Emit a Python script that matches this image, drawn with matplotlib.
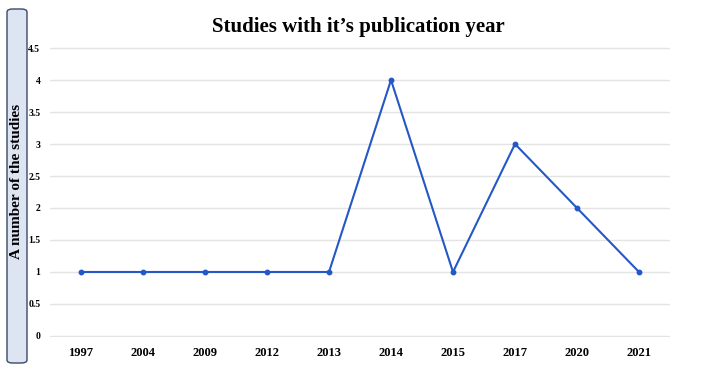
import matplotlib.pyplot as plt
from matplotlib.patches import FancyBboxPatch

years = ["1997", "2004", "2009", "2012", "2013", "2014", "2015", "2017", "2020", "2021"]
studies = [1, 1, 1, 1, 1, 4, 1, 3, 2, 1]
y_ticks = [0, 0.5, 1, 1.5, 2, 2.5, 3, 3.5, 4, 4.5]
y_tick_labels = ["0", "0.5", "1", "1.5", "2", "2.5", "3", "3.5", "4", "4.5"]

plt.rcParams["font.family"] = ["Liberation Serif", "DejaVu Serif"]

W, H = 706, 373
fig = plt.figure(figsize=(W / 100, H / 100), dpi=100)
# y range padded a little so the 0 and 4.5 gridlines are not clipped
ax = fig.add_axes([50 / W, (H - 337) / H, 620 / W, (337 - 47) / H])

x = range(len(years))
ax.plot(x, studies, color="#2458c6", linewidth=1.5, marker="o", markersize=3.2)
ax.set_xlim(-0.5, len(years) - 0.5)
ax.set_ylim(-0.016, 4.516)
ax.set_xticks(list(x))
ax.set_xticklabels(years, fontsize=9, fontweight="bold")
ax.set_yticks(y_ticks)
ax.set_yticklabels(y_tick_labels, fontsize=7, fontweight="bold")
ax.tick_params(length=0)
ax.tick_params(axis="x", pad=7)
ax.tick_params(axis="y", pad=7)
ax.grid(axis="y", color="#e4e4e4", linewidth=1)
ax.set_axisbelow(True)
for s in ax.spines.values():
    s.set_visible(False)

fig.text(358 / W, (H - 27) / H, "Studies with it\u2019s publication year",
         ha="center", va="center", fontsize=15, fontweight="bold")

# boxed y-axis label
box = FancyBboxPatch((7 / W, 10 / H), 20 / W, 354 / H,
                     boxstyle="round,pad=0,rounding_size=0.008",
                     transform=fig.transFigure, facecolor="#dde4f2",
                     edgecolor="#3a4a66", linewidth=1)
fig.patches.append(box)
fig.text(17 / W, (H - 181) / H, "A number of the studies", rotation=90,
         ha="center", va="center", fontsize=11, fontweight="bold")

fig.savefig("out.png", dpi=100)
